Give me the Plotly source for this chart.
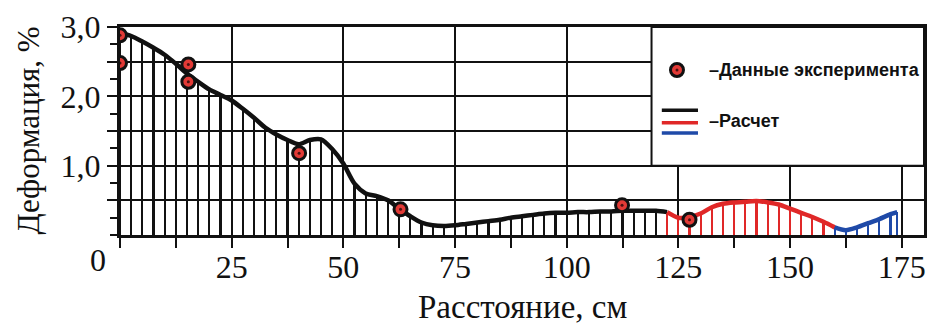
import plotly.graph_objects as go

# ---- data ----
calc_black_x = [0, 2.5, 5, 7.5, 10, 12.5, 15, 17.5, 20, 22.5, 25, 27.5, 30, 32.5, 35, 37.5,
                40, 42.5, 45, 47.5, 50, 52.5, 55, 57.5, 60, 62.5, 65, 67.5, 70, 72.5, 75,
                77.5, 80, 82.5, 85, 87.5, 90, 92.5, 95, 97.5, 100, 102.5, 105, 107.5, 110,
                112.5, 115, 117.5, 120, 122.5]
calc_black_y = [2.92, 2.87, 2.79, 2.70, 2.60, 2.47, 2.33, 2.21, 2.10, 2.02, 1.94, 1.82, 1.69,
                1.55, 1.45, 1.37, 1.31, 1.37, 1.38, 1.24, 1.03, 0.74, 0.60, 0.56, 0.50, 0.38,
                0.27, 0.18, 0.14, 0.13, 0.14, 0.16, 0.18, 0.20, 0.22, 0.25, 0.27, 0.29, 0.31,
                0.32, 0.32, 0.33, 0.33, 0.34, 0.34, 0.35, 0.35, 0.35, 0.35, 0.33]
calc_red_x = [122.5, 125, 127.5, 130, 132.5, 135, 137.5, 140, 142.5, 145, 147.5, 150, 152.5,
              155, 157.5, 160]
calc_red_y = [0.33, 0.25, 0.26, 0.31, 0.40, 0.45, 0.47, 0.48, 0.49, 0.47, 0.44, 0.38, 0.32,
              0.26, 0.19, 0.11]
calc_blue_x = [160, 162.5, 165, 167.5, 170, 172.5, 174]
calc_blue_y = [0.11, 0.07, 0.11, 0.17, 0.23, 0.30, 0.33]

exp_x = [0, 0, 15.3, 15.3, 40.1, 62.8, 112.4, 127.5]
exp_y = [2.88, 2.48, 2.46, 2.21, 1.18, 0.37, 0.43, 0.22]

x_tick_vals = [25, 50, 75, 100, 125, 150, 175]
x_tick_text = ["25", "50", "75", "100", "125", "150", "175"]
x_minor_vals = [0, 12.5, 37.5, 62.5, 87.5, 112.5, 137.5, 162.5]
y_tick_vals = [0.5, 1.0, 1.5, 2.0, 2.5, 3.0]
y_tick_text = ["", "1,0", "", "2,0", "", "3,0"]
y_minor_vals = [0, 0.25, 0.75, 1.25, 1.75, 2.25, 2.75]

legend_exp = "–Данные эксперимента"
legend_calc = "–Расчет"
x_title = "Расстояние, см"
y_title = "Деформация, %"

BLACK = "#111111"
RED = "#e02828"
BLUE = "#1f4aa8"
SERIF = "Liberation Serif, Times New Roman, serif"
NARROW = "Liberation Sans Narrow, Arial Narrow, Liberation Sans, sans-serif"

fig = go.Figure()

# hatching (thin bars from 0 up to the curve)
for xs, ys, col in [(calc_black_x, calc_black_y, BLACK),
                    (calc_red_x, calc_red_y, RED),
                    (calc_blue_x, calc_blue_y, BLUE)]:
    fig.add_trace(go.Bar(x=xs, y=ys, width=0.5, marker=dict(color=col, line=dict(width=0)),
                         showlegend=False, hoverinfo="skip"))

# curves
for xs, ys, col in [(calc_black_x, calc_black_y, BLACK),
                    (calc_red_x, calc_red_y, RED),
                    (calc_blue_x, calc_blue_y, BLUE)]:
    fig.add_trace(go.Scatter(x=xs, y=ys, mode="lines",
                             line=dict(color=col, width=4.5, shape="spline", smoothing=0.8),
                             showlegend=False, hoverinfo="skip"))

# experimental points
fig.add_trace(go.Scatter(x=exp_x, y=exp_y, mode="markers", cliponaxis=True,
                         marker=dict(size=13, color="#e23a36", line=dict(color=BLACK, width=3)),
                         showlegend=False))
fig.add_trace(go.Scatter(x=exp_x, y=exp_y, mode="markers", cliponaxis=True,
                         marker=dict(size=3, color="#4a1010"),
                         showlegend=False, hoverinfo="skip"))

# legend box (drawn manually)
shapes = [
    dict(type="rect", xref="x", yref="y", x0=119, x1=180, y0=1.0, y1=3.0,
         fillcolor="white", line=dict(color=BLACK, width=2), layer="above"),
    dict(type="circle", xref="x", yref="y", xsizemode="pixel", ysizemode="pixel",
         xanchor=124.7, yanchor=2.38, x0=-6.5, x1=6.5, y0=-6.5, y1=6.5,
         fillcolor="#e23a36", line=dict(color=BLACK, width=3), layer="above"),
    dict(type="circle", xref="x", yref="y", xsizemode="pixel", ysizemode="pixel",
         xanchor=124.7, yanchor=2.38, x0=-1.5, x1=1.5, y0=-1.5, y1=1.5,
         fillcolor="#4a1010", line=dict(width=0), layer="above"),
]
for yy, col in [(1.80, BLACK), (1.62, RED), (1.47, BLUE)]:
    shapes.append(dict(type="line", xref="x", yref="y", x0=121.3, x1=129.4, y0=yy, y1=yy,
                       line=dict(color=col, width=3.5), layer="above"))

annotations = [
    dict(x=131.4, y=2.38, xref="x", yref="y", text="<b>" + legend_exp + "</b>", showarrow=False,
         xanchor="left", yanchor="middle", font=dict(family=NARROW, size=18, color=BLACK)),
    dict(x=131.4, y=1.64, xref="x", yref="y", text="<b>" + legend_calc + "</b>", showarrow=False,
         xanchor="left", yanchor="middle", font=dict(family=NARROW, size=18, color=BLACK)),
    dict(x=-0.027, y=-0.12, xref="paper", yref="paper", text="0", showarrow=False,
         xanchor="center", yanchor="middle", font=dict(family=SERIF, size=32, color=BLACK)),
    dict(x=0.5, y=-0.345, xref="paper", yref="paper", text=x_title, showarrow=False,
         xanchor="center", yanchor="middle", font=dict(family=SERIF, size=33, color=BLACK)),
    dict(x=-0.115, y=0.5, xref="paper", yref="paper", text=y_title, showarrow=False,
         textangle=-90, xanchor="center", yanchor="middle",
         font=dict(family=SERIF, size=31, color=BLACK)),
]

fig.update_layout(
    width=930, height=331,
    margin=dict(l=120, r=6, t=27, b=96, autoexpand=False),
    paper_bgcolor="white", plot_bgcolor="white",
    barmode="overlay", bargap=0,
    shapes=shapes, annotations=annotations,
    font=dict(family=SERIF, size=32, color=BLACK),
    showlegend=False,
)
fig.update_xaxes(range=[0, 180], tickmode="array", tickvals=x_tick_vals, ticktext=x_tick_text,
                 automargin=False, ticklabelstandoff=-8,
                 ticks="outside", ticklen=10, tickwidth=2, tickcolor=BLACK,
                 showgrid=True, gridcolor=BLACK, gridwidth=2,
                 showline=True, linecolor=BLACK, linewidth=3, mirror=True, zeroline=False,
                 tickfont=dict(family=SERIF, size=32, color=BLACK),
                 minor=dict(tickmode="array", tickvals=x_minor_vals, ticks="outside",
                            ticklen=10, tickwidth=2, tickcolor=BLACK, showgrid=False))
fig.update_yaxes(range=[0, 3.0], tickmode="array", tickvals=y_tick_vals, ticktext=y_tick_text,
                 automargin=False,
                 ticks="outside", ticklen=10, tickwidth=2, tickcolor=BLACK,
                 showgrid=True, gridcolor=BLACK, gridwidth=2,
                 showline=True, linecolor=BLACK, linewidth=3, mirror=True, zeroline=False,
                 tickfont=dict(family=SERIF, size=32, color=BLACK),
                 minor=dict(tickmode="array", tickvals=y_minor_vals, ticks="outside",
                            ticklen=7, tickwidth=2, tickcolor=BLACK, showgrid=False))

fig.write_html("out.html", config={"displayModeBar": False},
               post_script="document.body.style.margin='0';")
